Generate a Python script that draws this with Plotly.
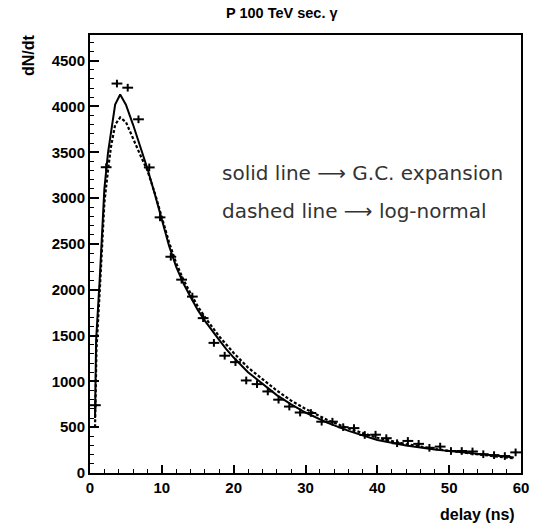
import plotly.graph_objects as go

# Histogram data (bin centres, counts)
bin_x = [0.75, 2.25, 3.75, 5.25, 6.75, 8.25, 9.75, 11.25, 12.75, 14.25,
         15.75, 17.25, 18.75, 20.25, 21.75, 23.25, 24.75, 26.25, 27.75, 29.25,
         30.75, 32.25, 33.75, 35.25, 36.75, 38.25, 39.75, 41.25, 42.75, 44.25,
         45.75, 47.25, 48.75, 50.25, 51.75, 53.25, 54.75, 56.25, 57.75, 59.25]
counts = [740, 3337, 4250, 4205, 3860, 3335, 2790, 2360, 2110, 1925,
          1690, 1420, 1280, 1210, 1010, 970, 890, 800, 725, 660,
          655, 560, 560, 500, 490, 415, 418, 380, 325, 350,
          318, 275, 288, 240, 240, 235, 205, 195, 185, 225]
bin_half = [0.75] * len(bin_x)
count_err = [42] * len(bin_x)

# Solid line: G.C. expansion
gc_x = [0.7, 0.85, 1.35, 2.0, 2.5, 3.0, 3.5, 4.2, 5.0, 6.0, 7.0, 8.0, 9.0, 10.0,
        11.0, 12.0, 13.0, 14.0, 15.0, 16.0, 17.0, 18.0, 19.0, 20.0, 22.0, 24.0,
        26.0, 28.0, 30.0, 33.0, 36.0, 40.0, 44.0, 48.0, 52.0, 56.0, 59.0]
gc_y = [600, 1450, 2110, 3100, 3490, 3780, 4020, 4130, 4020, 3800, 3560, 3320, 3050, 2760,
        2480, 2250, 2070, 1920, 1780, 1660, 1550, 1450, 1350, 1260, 1100, 970,
        850, 750, 660, 550, 460, 360, 300, 255, 222, 190, 170]

# Dashed line: log-normal
ln_x = [0.7, 0.9, 1.4, 2.0, 2.5, 2.9, 3.5, 4.2, 5.0, 5.7, 6.0, 7.0, 8.0, 9.0, 10.0,
        11.0, 12.0, 13.0, 14.0, 15.0, 16.0, 17.0, 18.0, 19.0, 20.0, 22.0, 24.0,
        26.0, 28.0, 30.0, 33.0, 36.0, 40.0, 44.0, 48.0, 52.0, 56.0, 59.0]
ln_y = [500, 1350, 2050, 2950, 3300, 3550, 3800, 3880, 3830, 3700, 3660, 3470, 3300, 3060, 2790,
        2520, 2290, 2110, 1960, 1820, 1700, 1590, 1490, 1400, 1310, 1150, 1020,
        900, 790, 700, 580, 485, 385, 315, 262, 220, 185, 160]

title_text = "P 100 TeV sec. γ"
line1 = "solid line ⟶ G.C. expansion"
line2 = "dashed line ⟶ log-normal"

fig = go.Figure()
fig.add_trace(go.Scatter(
    x=ln_x, y=ln_y, mode="lines",
    line=dict(color="black", width=2.2, dash="3px,2px"), showlegend=False))
fig.add_trace(go.Scatter(
    x=gc_x, y=gc_y, mode="lines",
    line=dict(color="black", width=2), showlegend=False))
fig.add_trace(go.Scatter(
    x=bin_x, y=counts, mode="markers",
    marker=dict(size=2, color="black"),
    error_x=dict(type="data", array=bin_half, width=0, thickness=2, color="black"),
    error_y=dict(type="data", array=count_err, width=0, thickness=2, color="black"),
    showlegend=False))

font_fam = "Liberation Sans, Arial, sans-serif"
fig.update_layout(
    width=541, height=527,
    margin=dict(l=90, r=20, t=35, b=54),
    paper_bgcolor="white", plot_bgcolor="white",
    font=dict(family=font_fam, color="black"),
    xaxis=dict(range=[0, 60], showgrid=False, zeroline=False,
               showline=True, linewidth=2, linecolor="black", mirror=True,
               ticks="inside", ticklen=8, tickwidth=1.5, tickcolor="black",
               tickvals=[0, 10, 20, 30, 40, 50, 60],
               tickfont=dict(size=15, weight="bold", family=font_fam),
               minor=dict(dtick=2, ticks="inside", ticklen=4, tickwidth=1, tickcolor="black")),
    yaxis=dict(range=[0, 4780], showgrid=False, zeroline=False,
               showline=True, linewidth=2, linecolor="black", mirror=True,
               ticks="inside", ticklen=9, tickwidth=1.5, tickcolor="black",
               tickvals=[0, 500, 1000, 1500, 2000, 2500, 3000, 3500, 4000, 4500],
               tickfont=dict(size=15, weight="bold", family=font_fam),
               minor=dict(dtick=100, ticks="inside", ticklen=4, tickwidth=1, tickcolor="black")),
)

fig.add_annotation(text=title_text, xref="paper", yref="paper", x=0.445, y=1.0,
                   yshift=22, showarrow=False, xanchor="center", yanchor="middle",
                   font=dict(size=14.5, weight="bold", family=font_fam))
fig.add_annotation(text="dN/dt", xref="paper", yref="paper", x=0, y=1.0,
                   xshift=-62, yshift=-20, textangle=-90, showarrow=False,
                   xanchor="center", yanchor="middle",
                   font=dict(size=16, weight="bold", family=font_fam))
fig.add_annotation(text="delay (ns)", xref="paper", yref="paper", x=1.0, y=0,
                   xshift=-4, yshift=-41, showarrow=False,
                   xanchor="right", yanchor="middle",
                   font=dict(size=16, weight="bold", family=font_fam))
fig.add_annotation(text=line1, xref="paper", yref="paper", x=0.302, y=0.685,
                   showarrow=False, xanchor="left", yanchor="middle",
                   font=dict(size=20, family="DejaVu Sans", color="#333"))
fig.add_annotation(text=line2, xref="paper", yref="paper", x=0.302, y=0.598,
                   showarrow=False, xanchor="left", yanchor="middle",
                   font=dict(size=20, family="DejaVu Sans", color="#333"))

fig.write_html("out.html")
